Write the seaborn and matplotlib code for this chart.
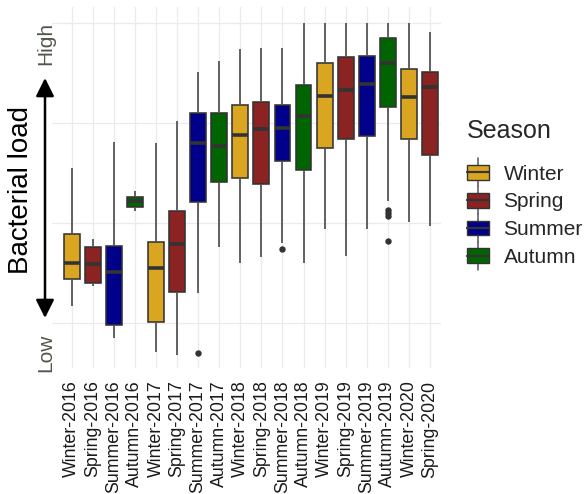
import numpy as np
import pandas as pd
import matplotlib
matplotlib.use("Agg")
import matplotlib.pyplot as plt
import seaborn as sns
from matplotlib.legend_handler import HandlerBase
from matplotlib.patches import Rectangle
from matplotlib.lines import Line2D

# Sampling periods (season-year) and the season each belongs to
periods = ["Winter-2016", "Spring-2016", "Summer-2016", "Autumn-2016",
           "Winter-2017", "Spring-2017", "Summer-2017", "Autumn-2017",
           "Winter-2018", "Spring-2018", "Summer-2018", "Autumn-2018",
           "Winter-2019", "Spring-2019", "Summer-2019", "Autumn-2019",
           "Winter-2020", "Spring-2020"]
seasons = ["Winter", "Spring", "Summer", "Autumn",
           "Winter", "Spring", "Summer", "Autumn",
           "Winter", "Spring", "Summer", "Autumn",
           "Winter", "Spring", "Summer", "Autumn",
           "Winter", "Spring"]
season_order = ["Winter", "Spring", "Summer", "Autumn"]
season_colors = ["#DAA520", "#8B2323", "#00008B", "#006400"]

# Five-number summaries of bacterial load (relative scale) per period
load_min = [0.17, 0.37, -0.15, 1.12, -0.29, -0.32, 0.30, 0.76, 0.60,
            0.66, 0.80, 0.60, 0.94, 0.67, 0.94, 1.22, 1.01, 0.97]
load_q1 = [0.44, 0.40, -0.02, 1.16, 0.01, 0.31, 1.21, 1.41, 1.45,
           1.39, 1.62, 1.53, 1.75, 1.84, 1.87, 2.16, 1.84, 1.68]
load_median = [0.60, 0.59, 0.51, 1.22, 0.55, 0.79, 1.80, 1.77, 1.88,
               1.94, 1.95, 2.07, 2.27, 2.33, 2.39, 2.60, 2.26, 2.36]
load_q3 = [0.89, 0.76, 0.77, 1.26, 0.81, 1.12, 2.10, 2.10, 2.18,
           2.21, 2.18, 2.38, 2.60, 2.66, 2.67, 2.85, 2.54, 2.51]
load_max = [1.55, 0.84, 1.81, 1.32, 1.80, 2.02, 2.51, 2.62, 2.74,
            2.75, 2.75, 3.00, 3.00, 3.00, 3.00, 3.00, 3.00, 2.91]

# Outlying samples
outlier_period = ["Summer-2017", "Summer-2018", "Autumn-2019",
                  "Autumn-2019", "Autumn-2019", "Autumn-2019"]
outlier_load = [-0.30, 0.74, 1.13, 1.10, 1.07, 0.82]

rows = []
for i, p in enumerate(periods):
    for v in (load_min[i], load_q1[i], load_median[i], load_q3[i], load_max[i]):
        rows.append((p, seasons[i], v))
df = pd.DataFrame(rows, columns=["period", "season", "load"])
out_df = pd.DataFrame({"period": outlier_period, "load": outlier_load})

sns.set_theme(style="white")
plt.rcParams["font.family"] = ["Liberation Sans", "DejaVu Sans"]

W, H = 586, 494
fig = plt.figure(figsize=(W / 100, H / 100), dpi=100)
ax = fig.add_axes([52 / W, 1 - 368 / H, (441 - 52) / W, (368 - 7) / H])

palette = dict(zip(season_order, season_colors))
edge = "#333333"
sns.boxplot(data=df, x="period", y="load", hue="season", order=periods,
            hue_order=season_order, palette=palette, dodge=False, width=0.75,
            whis=(0, 100), showfliers=False, showcaps=False, saturation=1,
            linecolor=edge, linewidth=1.15,
            medianprops=dict(color=edge, linewidth=2.6),
            whiskerprops=dict(color="#555555", linewidth=1.3),
            legend=False, ax=ax)
sns.stripplot(data=out_df, x="period", y="load", order=periods, jitter=False,
              color=edge, size=4.6, linewidth=0, ax=ax)

ax.set_xlim(-0.93, 17.52)
ax.set_ylim(-0.45, 3.16)
ax.set_yticks([0, 1, 2, 3])
ax.set_yticklabels([])
ax.set_xlabel("")
ax.set_ylabel("")
ax.grid(True, color="#EBEBEB", linewidth=0.9)
ax.set_axisbelow(True)
for s in ax.spines.values():
    s.set_visible(False)
ax.tick_params(axis="y", length=0)
ax.tick_params(axis="x", rotation=90, length=0, pad=9, labelsize=12.8,
               labelcolor="#1a1a1a")

# Axis annotations: direction arrow with Low / High ends
axis_text = "#50584a"
fig.text(45.5 / W, 1 - 22 / H, "High", rotation=90, ha="center", va="top",
         fontsize=15, color=axis_text)
fig.text(45.5 / W, 1 - 352.5 / H, "Low", rotation=90, ha="center",
         va="center", fontsize=15, color=axis_text)
fig.text(21 / W, 1 - 190 / H, "Bacterial load", rotation=90, ha="center",
         va="center", fontsize=20, color="black")
ax.annotate("", xy=(45 / W, 1 - 78 / H), xytext=(45 / W, 1 - 318 / H),
            xycoords="figure fraction", textcoords="figure fraction",
            annotation_clip=False,
            arrowprops=dict(arrowstyle="<|-|>,head_length=1.1,head_width=0.55",
                            color="black", lw=1.8, shrinkA=0, shrinkB=0,
                            mutation_scale=10))


class BoxKey(HandlerBase):
    """Legend key drawn as a small box-and-whisker glyph."""

    def create_artists(self, legend, orig_handle, xdescent, ydescent,
                       width, height, fontsize, trans):
        x0, y0 = -xdescent, -ydescent
        cx = x0 + width / 2
        whisker = Line2D([cx, cx], [y0 - 0.25 * height, y0 + 1.25 * height],
                         color="#555555", lw=1.1, transform=trans)
        box = Rectangle((x0, y0 + 0.1 * height), width, 0.8 * height,
                        facecolor=orig_handle.get_facecolor(),
                        edgecolor=edge, lw=1.0, transform=trans)
        med = Line2D([x0, x0 + width], [y0 + height / 2] * 2, color=edge,
                     lw=1.6, transform=trans)
        return [whisker, box, med]


handles = [Rectangle((0, 0), 1, 1, facecolor=c) for c in season_colors]
leg = fig.legend(handles, season_order, title="Season", loc="upper left",
                 bbox_to_anchor=(467 / W, 1 - 119 / H), frameon=False,
                 fontsize=15, title_fontsize=18, handlelength=1.05,
                 handleheight=1.0, handletextpad=0.7, labelspacing=0.35,
                 borderpad=0, borderaxespad=0, alignment="left",
                 handler_map={Rectangle: BoxKey()})
# extra room between the legend title and its entries
leg._legend_box.sep = 14.5

fig.savefig("out.png", dpi=100, facecolor="white")
